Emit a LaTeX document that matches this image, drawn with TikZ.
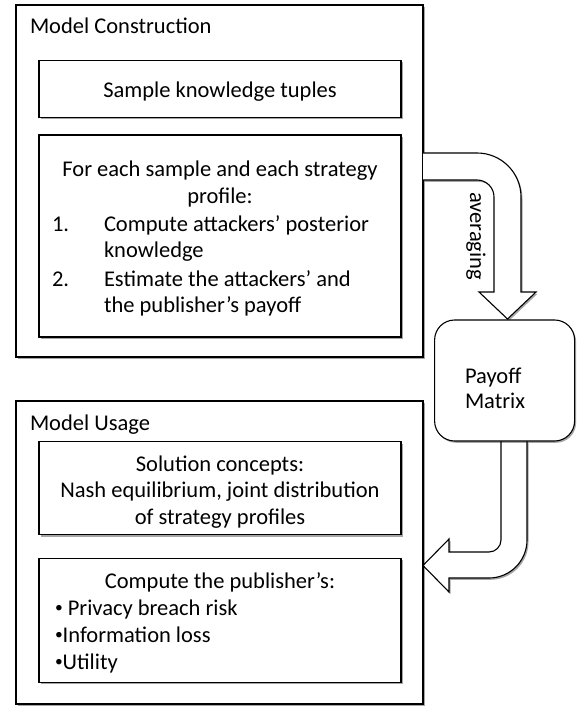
\documentclass[tikz,border=0pt]{standalone}
\usepackage{fontspec}
\setmainfont{Carlito}
\usetikzlibrary{shadows}
\newcommand{\smallbul}{\raisebox{2.5pt}{\fontsize{15.5}{15.5}\selectfont •}}
\begin{document}
\begin{tikzpicture}[x=1pt,y=-1pt,
  shad/.style={drop shadow={shadow xshift=1.5pt,shadow yshift=-1.8pt,opacity=0.35,fill=black}},
  box/.style={draw=black,line width=1.1pt,fill=white,inner sep=0pt,outer sep=0pt,shad},
  blockarrow/.style={draw=black,line width=1.1pt,fill=white,line join=miter,shad},
  txt/.style={inner sep=0pt,outer sep=0pt,font=\fontsize{22.5}{27}\selectfont},
]
\useasboundingbox (0,0) rectangle (583,708);

% outer frames
\node[box,minimum width=407pt,minimum height=352pt] (construction) at (219.5,181) {};
\node[box,minimum width=407pt,minimum height=303pt] (usage) at (219.5,552.5) {};

% inner boxes
\node[box,minimum width=362pt,minimum height=57pt] (sample) at (220,88.7) {};
\node[box,minimum width=362pt,minimum height=202pt] (foreach) at (220,236) {};
\node[box,minimum width=362pt,minimum height=93pt] (solution) at (220,488.3) {};
\node[box,minimum width=362pt,minimum height=124pt] (compute) at (220,620.3) {};

% block arrow: averaging
\draw[blockarrow] (423,153) -- (477,153)
  .. controls (501.3,153) and (521,172.7) .. (521,197) -- (521,292) -- (536,292)
  -- (507.5,319) -- (479,292) -- (494,292) -- (494,197)
  .. controls (494,187.6) and (486.4,180) .. (477,180) -- (423,180);

% block arrow: payoff to usage
\draw[blockarrow] (501,441) -- (501,540)
  .. controls (501,546.6) and (495.6,552) .. (489,552) -- (449,552) -- (449,539)
  -- (423,565.5) -- (449,592) -- (449,578) -- (489,578)
  .. controls (510,578) and (527,561) .. (527,540) -- (527,441);

% payoff matrix
\node[box,rounded corners=20pt,minimum width=140pt,minimum height=121pt] (payoff) at (504.6,380.5) {};

% texts
\node[txt,anchor=base west] (tconstr) at (30,34) {Model Construction};
\node[txt,anchor=base] (tsample) at (220,98) {Sample knowledge tuples};
\node[txt,anchor=base] (tfe1) at (220,177) {For each sample and each strategy};
\node[txt,anchor=base] (tfe2) at (220,204) {profile:};
\node[txt,anchor=base west] (num1) at (52,232) {1.};
\node[txt,anchor=base west] (tfe3) at (104,232) {Compute attackers’ posterior};
\node[txt,anchor=base west] (tfe4) at (104,258) {knowledge};
\node[txt,anchor=base west] (num2) at (52,286) {2.};
\node[txt,anchor=base west] (tfe5) at (104,286) {Estimate the attackers’ and};
\node[txt,anchor=base west] (tfe6) at (104,312) {the publisher’s payoff};

\node[txt,anchor=base,rotate=-90] (tavg) at (470,236) {averaging};

\node[txt,anchor=base west] (tpay1) at (465,383) {Payoff};
\node[txt,anchor=base west] (tpay2) at (465,408) {Matrix};

\node[txt,anchor=base west] (tusage) at (30,430) {Model Usage};
\node[txt,anchor=base] (tsol1) at (220,471) {Solution concepts:};
\node[txt,anchor=base] (tsol2) at (220,497) {Nash equilibrium, joint distribution};
\node[txt,anchor=base] (tsol3) at (220,524) {of strategy profiles};
\node[txt,anchor=base] (tcomp1) at (220,588) {Compute the publisher’s:};
\node[txt,anchor=base west] (tcomp2) at (55,615) {\smallbul{} Privacy breach risk};
\node[txt,anchor=base west] (tcomp3) at (55,642) {\smallbul{}Information loss};
\node[txt,anchor=base west] (tcomp4) at (55,669) {\smallbul{}Utility};
\end{tikzpicture}
\end{document}
